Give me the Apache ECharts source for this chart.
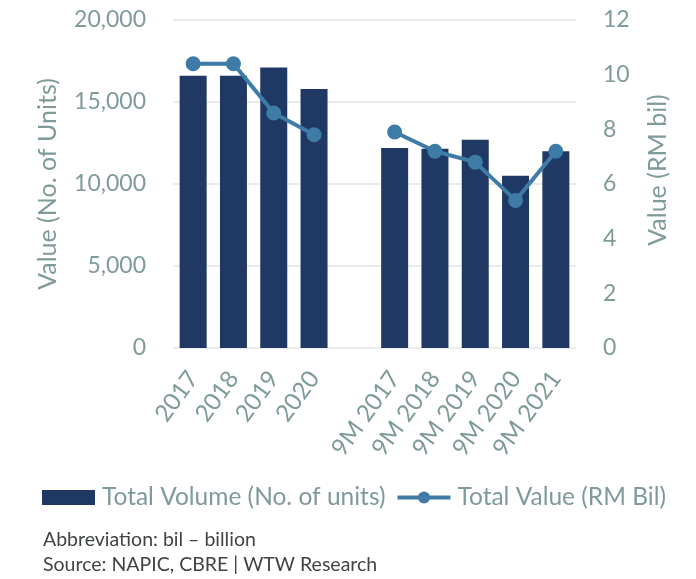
<!DOCTYPE html>
<html>
<head>
<meta charset="utf-8">
<script src="https://cdn.jsdelivr.net/npm/echarts@6/dist/echarts.min.js"></script>
<style>
  html, body { margin: 0; padding: 0; background: #fff; }
  #chart { width: 696px; height: 579px; }
</style>
</head>
<body>
<div id="chart"></div>
<script>
// categories (empty slot between the full years and the 9M periods)
const categories = ['2017', '2018', '2019', '2020', '', '9M 2017', '9M 2018', '9M 2019', '9M 2020', '9M 2021']
const totalVolume = [16600, 16600, 17100, 15800, null, 12200, 12150, 12700, 10500, 12000]
const totalValue = [10.4, 10.4, 8.6, 7.8, null, 7.9, 7.2, 6.8, 5.4, 7.2]
const footnotes = ['Abbreviation: bil \u2013 billion', 'Source: NAPIC, CBRE | WTW Research']

const FONT = 'Lato'
const TEXT_COLOR = '#7F9A9A'
const BAR_COLOR = '#203864'
const LINE_COLOR = '#3E7BA6'

const chart = echarts.init(document.getElementById('chart'), null, { renderer: 'canvas' })

chart.setOption({
  backgroundColor: '#fff',
  textStyle: { fontFamily: FONT },
  animation: false,
  grid: {
    left: 173,
    right: 120,
    top: 20,
    bottom: 231
  },
  legend: {
    top: 480,
    left: 37,
    itemWidth: 53,
    itemHeight: 15,
    itemGap: 10,
    textStyle: {
      fontFamily: FONT,
      fontSize: 24.5,
      color: TEXT_COLOR,
      padding: [0, 0, 0, 2]
    },
    data: [
      { name: 'Total Volume (No. of units)', icon: 'rect' },
      { name: 'Total Value (RM Bil)', lineStyle: { width: 4 } }
    ]
  },
  xAxis: {
    type: 'category',
    data: categories,
    axisTick: { show: false },
    axisLine: { show: false },
    axisLabel: {
      rotate: 54,
      interval: 0,
      margin: 26,
      fontFamily: FONT,
      fontSize: 24,
      color: TEXT_COLOR
    }
  },
  yAxis: [
    {
      type: 'value',
      min: 0,
      max: 20000,
      interval: 5000,
      name: 'Value (No. of Units)',
      nameLocation: 'middle',
      nameGap: 113,
      nameTextStyle: { fontFamily: FONT, fontSize: 25, color: TEXT_COLOR },
      axisLabel: {
        margin: 27,
        fontFamily: FONT,
        fontSize: 23,
        color: TEXT_COLOR,
        formatter: (v) => v.toLocaleString('en-US')
      },
      axisLine: { show: false },
      axisTick: { show: false },
      splitLine: { lineStyle: { color: '#E2E6E6', width: 1.5 } }
    },
    {
      type: 'value',
      min: 0,
      max: 12,
      interval: 2,
      name: 'Value (RM bil)',
      nameLocation: 'middle',
      nameGap: 69,
      nameTextStyle: { fontFamily: FONT, fontSize: 25, color: TEXT_COLOR, padding: [0, 0, 0, 28] },
      axisLabel: {
        margin: 27,
        fontFamily: FONT,
        fontSize: 23,
        color: TEXT_COLOR
      },
      axisLine: { show: false },
      axisTick: { show: false },
      splitLine: { show: false }
    }
  ],
  series: [
    {
      name: 'Total Volume (No. of units)',
      type: 'bar',
      yAxisIndex: 0,
      data: totalVolume,
      barWidth: 27,
      itemStyle: { color: BAR_COLOR }
    },
    {
      name: 'Total Value (RM Bil)',
      type: 'line',
      yAxisIndex: 1,
      data: totalValue,
      connectNulls: false,
      symbol: 'circle',
      symbolSize: 15,
      lineStyle: { color: LINE_COLOR, width: 4 },
      itemStyle: { color: LINE_COLOR }
    }
  ],
  graphic: footnotes.map((t, i) => ({
    type: 'text',
    left: 43,
    top: 530 + i * 25,
    style: {
      text: t,
      fontFamily: FONT,
      fontSize: 19.5,
      fill: '#404444'
    }
  }))
})
</script>
</body>
</html>
